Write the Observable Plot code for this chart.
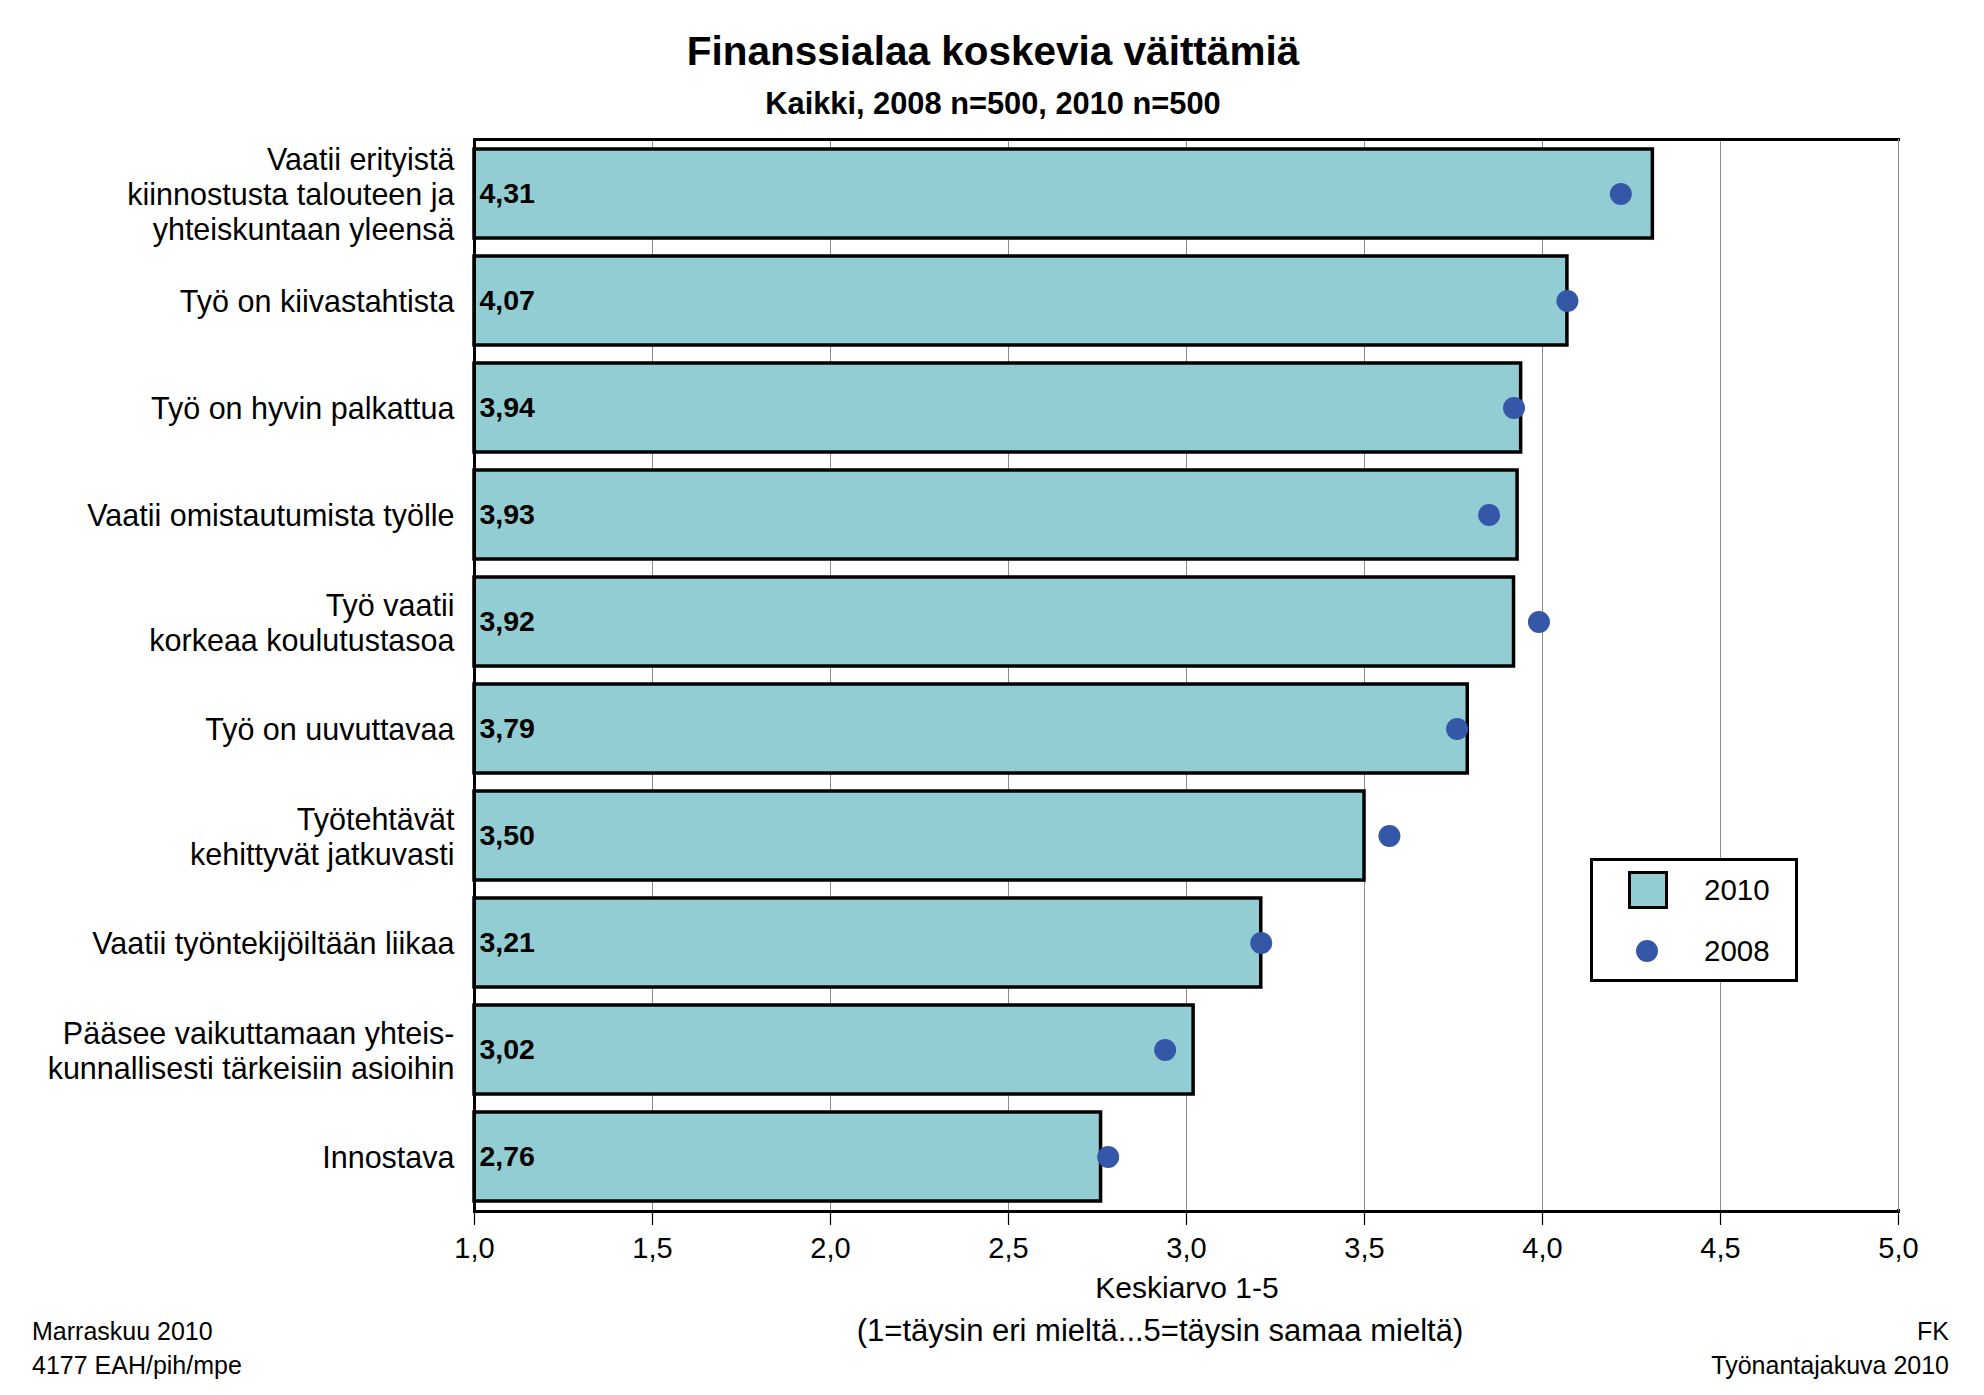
<!DOCTYPE html>
<html><head><meta charset="utf-8">
<script src="https://cdn.jsdelivr.net/npm/d3@7"></script>
<script src="https://cdn.jsdelivr.net/npm/@observablehq/plot@0.6"></script>
<style>
body{margin:0;background:#fff;font-family:"Liberation Sans",Arial,sans-serif;}
#page{position:relative;width:1984px;height:1395px;overflow:hidden;background:#fff;}
.t{position:absolute;white-space:nowrap;color:#000;}
#chart{position:absolute;left:0;top:120px;}
</style></head><body><div id="page"><div id="chart"></div></div>
<script>
const categories = [
  "Vaatii erityistä\nkiinnostusta talouteen ja\nyhteiskuntaan yleensä",
  "Työ on kiivastahtista",
  "Työ on hyvin palkattua",
  "Vaatii omistautumista työlle",
  "Työ vaatii\nkorkeaa koulutustasoa",
  "Työ on uuvuttavaa",
  "Työtehtävät\nkehittyvät jatkuvasti",
  "Vaatii työntekijöiltään liikaa",
  "Pääsee vaikuttamaan yhteis-\nkunnallisesti tärkeisiin asioihin",
  "Innostava"
];
const values2010 = [4.31, 4.07, 3.94, 3.93, 3.92, 3.79, 3.50, 3.21, 3.02, 2.76];
const values2008 = [4.22, 4.07, 3.92, 3.85, 3.99, 3.76, 3.57, 3.21, 2.94, 2.78];
const xTicks = [1.0, 1.5, 2.0, 2.5, 3.0, 3.5, 4.0, 4.5, 5.0];
const seriesNames = ["2010", "2008"];
const titleText = "Finanssialaa koskevia väittämiä";
const subtitleText = "Kaikki, 2008 n=500, 2010 n=500";
const xLabelLines = ["Keskiarvo 1-5", "(1=täysin eri mieltä...5=täysin samaa mieltä)"];
const footLeft = ["Marraskuu 2010", "4177 EAH/pih/mpe"];
const footRight = ["FK", "Työnantajakuva 2010"];

const barFill = "#92cdd3";
const dotFill = "#3557a7";
const FONT = "'Liberation Sans', Arial, sans-serif";

const data = categories.map((c, i) => ({cat: c, v2010: values2010[i], v2008: values2008[i]}));
const comma = (d, n) => d.toFixed(n).replace(".", ",");

const chart = Plot.plot({
  width: 1984, height: 1220,
  marginTop: 19, marginBottom: 129, marginLeft: 474, marginRight: 86,
  style: {fontFamily: FONT, fontSize: "29px", color: "#000", background: "transparent"},
  x: {domain: [1, 5]},
  y: {domain: categories, paddingInner: 0.17, paddingOuter: 0.09},
  marks: [
    Plot.gridX({ticks: xTicks.filter(t => t > 1), stroke: "#8c8c8c", strokeOpacity: 1, strokeWidth: 1}),
    Plot.barX(data, {y: "cat", x1: 1, x2: "v2010", fill: barFill, stroke: "#000", strokeWidth: 3.5}),
    Plot.text(data, {y: "cat", x: 1, text: d => comma(d.v2010, 2), textAnchor: "start", dx: 5, fontWeight: "bold", fontSize: 28.5, fill: "#000"}),
    Plot.dot(data, {y: "cat", x: "v2008", r: 11, fill: dotFill, stroke: "none"}),
    Plot.frame({stroke: "#000", strokeWidth: 3}),
    Plot.ruleX([5], {stroke: "#fff", strokeWidth: 4, insetTop: 2, insetBottom: 2}),
    Plot.ruleX([5], {stroke: "#8c8c8c", strokeWidth: 1}),
    Plot.axisX({ticks: xTicks, tickFormat: d => comma(d, 1), tickSize: 14, tickPadding: 12, stroke: "#000", strokeWidth: 1.2, label: null, fontSize: 29}),
    Plot.axisY({tickSize: 0, tickPadding: 20, label: null, lineHeight: 1.14, fontSize: 30.5})
  ]
});
document.getElementById("chart").appendChild(chart);

const page = document.getElementById("page");
function addText(txt, opts) {
  const d = document.createElement("div");
  d.className = "t";
  d.textContent = txt;
  const lh = opts.lh || 36;
  d.style.fontSize = opts.size + "px";
  d.style.lineHeight = lh + "px";
  d.style.fontWeight = opts.bold ? "bold" : "normal";
  d.style.top = (opts.cy - lh / 2) + "px";
  if (opts.align === "center") { d.style.left = opts.x + "px"; d.style.transform = "translateX(-50%)"; }
  else if (opts.align === "right") { d.style.right = (1984 - opts.x) + "px"; }
  else { d.style.left = opts.x + "px"; }
  page.appendChild(d);
  return d;
}
addText(titleText, {size: 40.5, bold: true, cy: 51, x: 993, align: "center", lh: 48});
addText(subtitleText, {size: 30.8, bold: true, cy: 104, x: 993, align: "center"});
addText(xLabelLines[0], {size: 30, cy: 1288, x: 1187, align: "center"});
addText(xLabelLines[1], {size: 31, cy: 1331, x: 1160, align: "center"});
addText(footLeft[0], {size: 25, cy: 1331, x: 32, align: "left"});
addText(footLeft[1], {size: 25, cy: 1365, x: 32, align: "left"});
addText(footRight[0], {size: 25, cy: 1331, x: 1949, align: "right"});
addText(footRight[1], {size: 25, cy: 1365, x: 1949, align: "right"});

// legend
const lg = document.createElement("div");
lg.style.cssText = "position:absolute;left:1590px;top:858px;width:202px;height:118px;border:3px solid #000;background:#fff;";
page.appendChild(lg);
const sw = document.createElement("div");
sw.style.cssText = `position:absolute;left:1628px;top:871px;width:34px;height:32px;border:3px solid #000;background:${barFill};`;
page.appendChild(sw);
const dt = document.createElement("div");
dt.style.cssText = `position:absolute;left:1636px;top:940px;width:22px;height:22px;border-radius:50%;background:${dotFill};`;
page.appendChild(dt);
addText(seriesNames[0], {size: 29.5, cy: 890, x: 1704, align: "left"});
addText(seriesNames[1], {size: 29.5, cy: 951, x: 1704, align: "left"});
</script>
</body></html>
